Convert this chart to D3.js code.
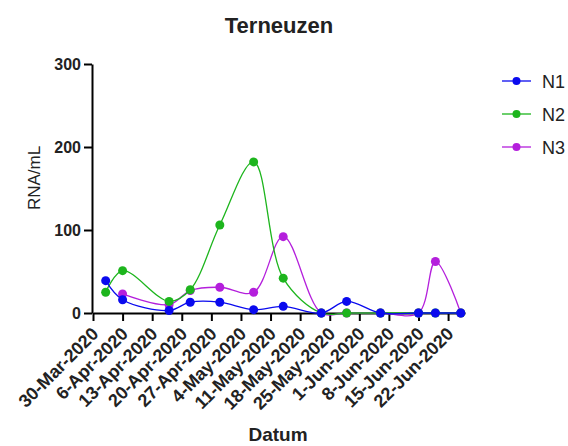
<!DOCTYPE html>
<html>
<head>
<meta charset="utf-8">
<script src="https://cdn.jsdelivr.net/npm/d3@7"></script>
<style>
  body { margin: 0; background: #fff; }
  svg { display: block; font-family: "Liberation Sans", Arial, sans-serif; }
  .axis path, .axis line { stroke: #000; stroke-width: 2; }
  .axis text { font-weight: bold; fill: #222; }
  .line { fill: none; stroke-width: 1.3; }
</style>
</head>
<body>
<div id="chart"></div>
<script>
// sample dates and series (RNA/mL)
var dates = ["2020-04-02", "2020-04-06", "2020-04-17", "2020-04-22", "2020-04-29", "2020-05-07",
             "2020-05-14", "2020-05-23", "2020-05-29", "2020-06-06", "2020-06-15", "2020-06-19", "2020-06-25"];
var n1 = [39, 16, 3, 13, 13, 4, 8, 0, 14, 0, 0, 0, 0];
var n2 = [25, 51, 14, 28, 106, 182, 42, 0, 0, 0, 0, 0, 0];
var n3 = [null, 23, 10, 27, 31, 25, 92, 0, 0, 0, 0, 62, 0];

var seriesNames = ["N1", "N2", "N3"];
var seriesColors = ["#0a0aee", "#1db51d", "#b41fdc"];

// weekly ticks on the x axis
var tickDates = ["2020-03-30", "2020-04-06", "2020-04-13", "2020-04-20", "2020-04-27", "2020-05-04",
                 "2020-05-11", "2020-05-18", "2020-05-25", "2020-06-01", "2020-06-08", "2020-06-15", "2020-06-22"];
var tickLabels = ["30-Mar-2020", "6-Apr-2020", "13-Apr-2020", "20-Apr-2020", "27-Apr-2020", "4-May-2020",
                  "11-May-2020", "18-May-2020", "25-May-2020", "1-Jun-2020", "8-Jun-2020", "15-Jun-2020", "22-Jun-2020"];
var yTicks = [0, 100, 200, 300];

var width = 568, height = 446;
var parseDate = d3.timeParse("%Y-%m-%d");

var x = d3.scaleTime()
    .domain([parseDate("2020-03-30"), parseDate("2020-06-26")])
    .range([93, 465]);
var y = d3.scaleLinear().domain([0, 300]).range([313, 64]);

var svg = d3.select("#chart").append("svg")
    .attr("width", width)
    .attr("height", height);

// Axes
var xAxis = svg.append("g")
    .attr("class", "axis axis--x")
    .attr("transform", "translate(0," + y(0) + ")")
    .call(d3.axisBottom(x)
        .tickValues(tickDates.map(parseDate))
        .tickFormat(function(d, i) { return tickLabels[i]; })
        .tickSize(8)
        .tickSizeOuter(0));
xAxis.selectAll("text")
    .style("font-size", "18px")
    .attr("text-anchor", "end")
    .attr("x", null).attr("y", null).attr("dy", null)
    .attr("transform", "translate(6,22) rotate(-45)");

var yAxis = svg.append("g")
    .attr("class", "axis axis--y")
    .attr("transform", "translate(92,0)")
    .call(d3.axisLeft(y).tickValues(yTicks).tickSize(8).tickSizeOuter(0).tickPadding(3));
yAxis.selectAll("text").style("font-size", "16px");

// Labels
svg.append("text")
    .attr("x", 279).attr("y", 33)
    .attr("text-anchor", "middle")
    .style("font-size", "22px")
    .style("font-weight", "bold")
    .style("fill", "#222")
    .text("Terneuzen");

svg.append("text")
    .attr("x", 278).attr("y", 441)
    .attr("text-anchor", "middle")
    .style("font-size", "19px")
    .style("font-weight", "bold")
    .style("fill", "#222")
    .text("Datum");

svg.append("text")
    .attr("transform", "translate(40,178) rotate(-90)")
    .attr("text-anchor", "middle")
    .style("font-size", "17px")
    .style("fill", "#222")
    .text("RNA/mL");

// Data lines, N3 at the bottom, N1 on top
var allSeries = [n1, n2, n3];
var line = d3.line()
    .x(function(d) { return x(d.date); })
    .y(function(d) { return y(d.v); })
    .curve(d3.curveCatmullRom.alpha(0.5));

[2, 1, 0].forEach(function(k) {
    var pts = dates.map(function(d, i) { return {date: parseDate(d), v: allSeries[k][i]}; })
        .filter(function(p) { return p.v !== null; });
    var g = svg.append("g").attr("class", "series");
    g.append("path")
        .datum(pts)
        .attr("class", "line")
        .attr("stroke", seriesColors[k])
        .attr("d", line);
    g.selectAll("circle")
        .data(pts)
        .enter().append("circle")
        .attr("cx", function(d) { return x(d.date); })
        .attr("cy", function(d) { return y(d.v); })
        .attr("r", 4.5)
        .attr("fill", seriesColors[k]);
});

// Legend
var legend = svg.append("g").attr("class", "legend");
var legendY = [81, 114, 147];
seriesNames.forEach(function(name, i) {
    var row = legend.append("g").attr("transform", "translate(0," + legendY[i] + ")");
    row.append("line")
        .attr("x1", 502).attr("x2", 531)
        .attr("stroke", seriesColors[i]).attr("stroke-width", 1.3);
    row.append("circle")
        .attr("cx", 516.5).attr("r", 4)
        .attr("fill", seriesColors[i]);
    row.append("text")
        .attr("x", 542).attr("y", 6.5)
        .style("font-size", "18px")
        .style("fill", "#222")
        .text(name);
});
</script>
</body>
</html>
